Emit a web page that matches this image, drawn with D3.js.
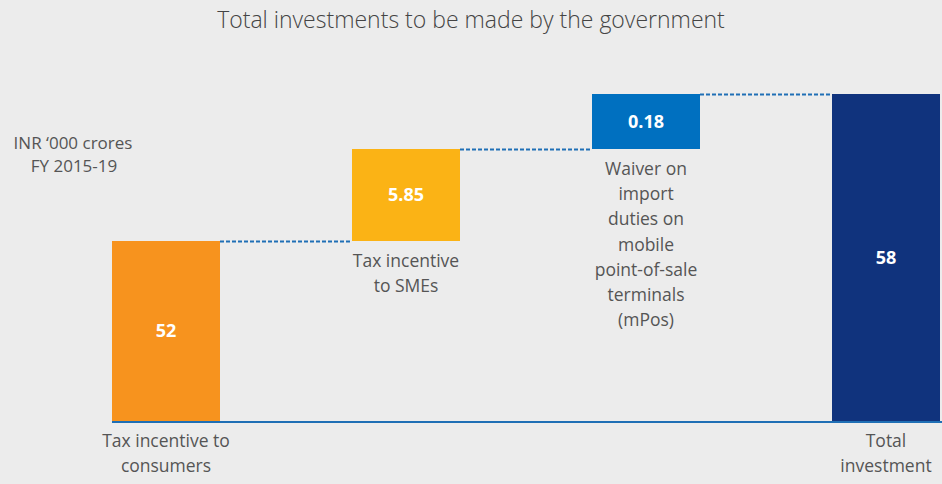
<!DOCTYPE html>
<html>
<head>
<meta charset="utf-8">
<script src="https://cdn.jsdelivr.net/npm/d3@7"></script>
<style>
  body { margin: 0; background: #ececec; }
  svg { display: block; font-family: "Open Sans", "Noto Sans", sans-serif; }
</style>
</head>
<body>
<svg width="942" height="484"></svg>
<script>
const categories = ['Tax incentive to consumers', 'Tax incentive to SMEs', 'Waiver on import duties on mobile point-of-sale terminals (mPos)', 'Total investment'];
const values = [52, 5.85, 0.18, 58];
const valueLabels = ['52', '5.85', '0.18', '58'];
const isTotal = [false, false, false, true];
const catLines = [
  ['Tax incentive to', 'consumers'],
  ['Tax incentive', 'to SMEs'],
  ['Waiver on', 'import', 'duties on', 'mobile', 'point-of-sale', 'terminals', '(mPos)'],
  ['Total', 'investment']
];
const colors = ['#f7931e', '#fbb315', '#0070c0', '#10337d'];

const svg = d3.select('svg');
const width = +svg.attr('width');
const height = +svg.attr('height');

// running totals for the waterfall
let run = 0;
const rows = values.map((v, i) => {
  let y0, y1;
  if (isTotal[i]) { y0 = 0; y1 = run; }
  else { y0 = run; y1 = run + v; run = y1; }
  return { i, cat: categories[i], v, y0, y1 };
});

const x = d3.scaleBand()
  .domain(categories)
  .range([112, 940])
  .paddingInner(0.55)
  .paddingOuter(0);

// the original is not drawn to scale: stretched between the running totals
const stops = [0, rows[0].y1, rows[1].y1, rows[2].y1];
const y = d3.scaleLinear()
  .domain(stops)
  .range([421, 241, 149, 94]);

svg.append('text')
  .attr('x', width / 2)
  .attr('y', 28)
  .attr('text-anchor', 'middle')
  .attr('font-size', 23)
  .attr('font-weight', 300)
  .attr('fill', '#444')
  .text('Total investments to be made by the government');

const unit = svg.append('text')
  .attr('text-anchor', 'middle')
  .attr('font-size', 17)
  .attr('fill', '#555');
unit.append('tspan').attr('x', 73).attr('y', 149).text('INR \u2018000 crores');
unit.append('tspan').attr('x', 74).attr('y', 172).text('FY 2015-19');

// connectors
const conn = rows.slice(0, rows.length - 1);
svg.append('g').selectAll('line')
  .data(conn)
  .join('line')
    .attr('x1', d => x(d.cat) + x.bandwidth())
    .attr('x2', d => x(categories[d.i + 1]))
    .attr('y1', d => y(d.y1) + 0.5)
    .attr('y2', d => y(d.y1) + 0.5)
    .attr('stroke', '#1f6fb5')
    .attr('stroke-width', 2)
    .attr('stroke-dasharray', '4,2');

svg.append('g').selectAll('rect')
  .data(rows)
  .join('rect')
    .attr('x', d => x(d.cat))
    .attr('width', x.bandwidth())
    .attr('y', d => y(Math.max(d.y0, d.y1)))
    .attr('height', d => y(Math.min(d.y0, d.y1)) - y(Math.max(d.y0, d.y1)))
    .attr('fill', (d, i) => colors[i]);

// baseline
svg.append('line')
  .attr('x1', x(categories[0]))
  .attr('x2', width)
  .attr('y1', y(0) + 1)
  .attr('y2', y(0) + 1)
  .attr('stroke', '#1f6fb5')
  .attr('stroke-width', 2);

svg.append('g').selectAll('text')
  .data(rows)
  .join('text')
    .attr('x', d => x(d.cat) + x.bandwidth() / 2)
    .attr('y', d => (y(d.y0) + y(d.y1)) / 2 + 6)
    .attr('text-anchor', 'middle')
    .attr('font-size', 18)
    .attr('font-weight', 700)
    .attr('fill', '#fff')
    .text((d, i) => valueLabels[i]);

// category labels: under the baseline for bars from zero, else under the bar
const lab = svg.append('g').selectAll('text')
  .data(rows)
  .join('text')
    .attr('text-anchor', 'middle')
    .attr('font-size', 17.5)
    .attr('fill', '#555');
lab.each(function (d, i) {
  const top = (d.y0 === 0 ? y(0) : y(d.y0)) + 26;
  const cx = x(d.cat) + x.bandwidth() / 2;
  d3.select(this).selectAll('tspan')
    .data(catLines[i])
    .join('tspan')
      .attr('x', cx)
      .attr('y', (t, k) => top + k * 25.2)
      .text(t => t);
});
</script>
</body>
</html>
